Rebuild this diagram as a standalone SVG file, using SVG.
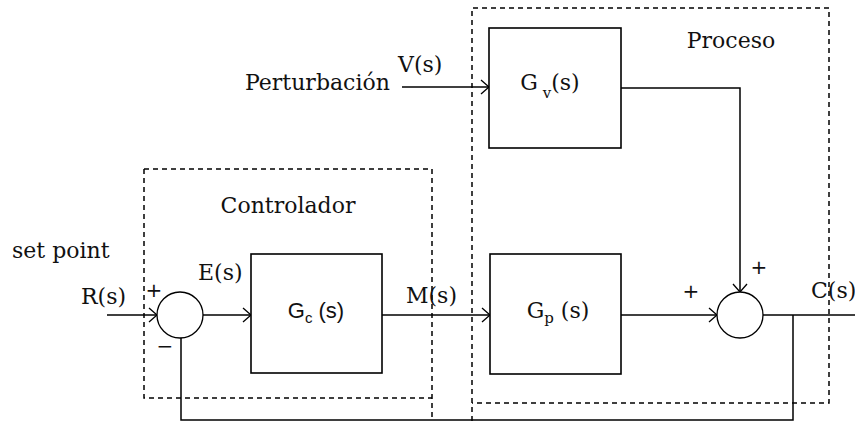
<svg xmlns="http://www.w3.org/2000/svg" width="855" height="421" viewBox="0 0 855 421">
  <defs>
    <style>
      .ln{stroke:#000;stroke-width:1.5;fill:none}
      .dash{stroke:#000;stroke-width:1.5;fill:none;stroke-dasharray:5 4}
      .blk{fill:#fff;stroke:#000;stroke-width:1.6}
      .sum{fill:#fff;stroke:#000;stroke-width:1.3}
      .t{font-family:"DejaVu Serif","Liberation Serif",serif;font-size:22px;fill:#111}
      .s{font-family:"Liberation Sans","DejaVu Sans",sans-serif;font-size:22px;fill:#111}
      .sg{font-family:"DejaVu Sans",sans-serif;font-size:20px;fill:#111}
    </style>
    <marker id="arr" viewBox="-10 -10 12 20" markerWidth="12" markerHeight="20" refX="0" refY="0" orient="auto" markerUnits="userSpaceOnUse">
      <path d="M-8,-7 L0,0 L-8,7" fill="none" stroke="#000" stroke-width="1.3"/>
    </marker>
  </defs>
  <rect width="855" height="421" fill="#fff"/>

  <!-- dashed grouping frames -->
  <g id="controlador">
    <path class="dash" d="M144,169 H432 V421 M144,169 V398 H432"/>
    <text class="t" x="288" y="213" text-anchor="middle">Controlador</text>
  </g>
  <g id="proceso">
    <path class="dash" d="M472,421 V8 H829 V403 H472"/>
    <text class="t" x="731" y="48" text-anchor="middle">Proceso</text>
  </g>

  <!-- signal lines -->
  <g id="connectors">
    <path class="ln" d="M107,315 H157" marker-end="url(#arr)"/>
    <path class="ln" d="M203,315 H251" marker-end="url(#arr)"/>
    <path class="ln" d="M382,315 H490" marker-end="url(#arr)"/>
    <path class="ln" d="M402,87 H489" marker-end="url(#arr)"/>
    <path class="ln" d="M621,315 H717" marker-end="url(#arr)"/>
    <path class="ln" d="M621,88 H740 V292" marker-end="url(#arr)"/>
    <path class="ln" d="M763,315 H855"/>
    <path class="ln" d="M793,315 V420 H181 V338"/>
  </g>

  <!-- blocks -->
  <g id="sum1">
    <circle class="sum" cx="180" cy="315" r="23"/>
  </g>
  <g id="Gc">
    <rect class="blk" x="251" y="254" width="131" height="119"/>
    <text class="s" x="316" y="318" text-anchor="middle">G<tspan font-size="15" dy="5">c</tspan><tspan dy="-5"> (s)</tspan></text>
  </g>
  <g id="Gp">
    <rect class="blk" x="490" y="254" width="131" height="120"/>
    <text class="t" x="558" y="318" text-anchor="middle">G<tspan font-size="15" dy="5">p</tspan><tspan dy="-5"> (s)</tspan></text>
  </g>
  <g id="Gv">
    <rect class="blk" x="489" y="28" width="132" height="120"/>
    <text class="t" x="550" y="90" text-anchor="middle">G<tspan font-size="15" dy="8"> v</tspan><tspan dy="-8">(s)</tspan></text>
  </g>
  <g id="sum2">
    <circle class="sum" cx="740" cy="315" r="23"/>
  </g>

  <!-- signal labels -->
  <g id="labels">
    <text class="t" x="12" y="258">set point</text>
    <text class="t" x="81" y="304">R(s)</text>
    <text class="sg" x="154" y="297" text-anchor="middle">+</text>
    <text class="sg" x="165" y="353" text-anchor="middle">−</text>
    <text class="t" x="198" y="280">E(s)</text>
    <text class="t" x="406" y="303">M(s)</text>
    <text class="t" x="245" y="90">Perturbación</text>
    <text class="t" x="398" y="72">V(s)</text>
    <text class="sg" x="759" y="274" text-anchor="middle">+</text>
    <text class="sg" x="691" y="298" text-anchor="middle">+</text>
    <text class="t" x="811" y="298">C(s)</text>
  </g>
</svg>
